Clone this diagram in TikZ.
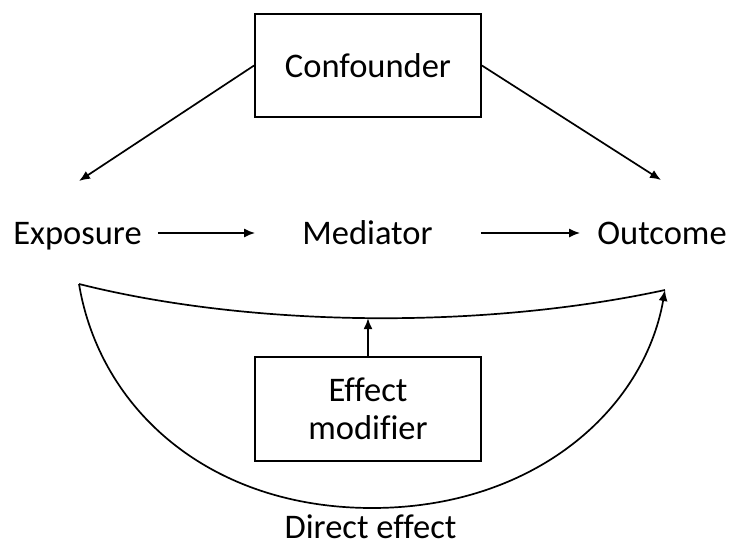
\documentclass[tikz,border=0pt]{standalone}
\usepackage{fontspec}
\setmainfont{Carlito}[Ligatures=NoCommon]
\usetikzlibrary{arrows.meta}

\tikzset{
  lbl/.style={inner sep=0pt, text height=22pt, text depth=0pt},
  boxnode/.style={draw, line width=1.8pt, minimum width=226pt, inner sep=0pt, align=center},
  link/.style={line width=1.7pt},
  arr/.style={link, -{Latex[length=11pt,width=9pt]}}
}

\begin{document}
\begin{tikzpicture}[x=1pt, y=-1pt, font=\fontsize{34.5}{40}\selectfont]
  \useasboundingbox (0,0) rectangle (729,546);

  % boxes
  \node[boxnode, minimum height=103pt] (conf) at (368,65.5) {Confounder};
  \node[boxnode, minimum height=104pt] (eff) at (368,409) {Effect\\[-2pt]modifier};

  % row of variables
  \node[lbl] (expo) at (77.5,233) {Exposure};
  \node[lbl] (med)  at (367.5,233) {Mediator};
  \node[lbl] (out)  at (662,233) {Outcome};

  % free ends of the confounder arrows and of the direct-effect loop
  \coordinate (cl) at (79,181);
  \coordinate (cr) at (661,180);
  \coordinate (dl) at (79,284);
  \coordinate (dr) at (665,290);
  \coordinate (db) at (372,508);

  % confounding paths
  \draw[arr] (conf.west) -- (cl);
  \draw[arr] (conf.east) -- (cr);

  % mediated path
  \draw[arr, shorten <=16pt, shorten >=47pt] (expo.east) -- (med.west);
  \draw[arr, shorten <=48pt, shorten >=17pt] (med.east) -- (out.west);

  % direct effect loop
  \draw[link] (dl) .. controls (250,327) and (480,330) .. coordinate[pos=0.5] (dm) (dr);
  \draw[arr] (dl) .. controls (100,410) and (210,508) .. (db)
                  .. controls (534,508) and (644,410) .. (dr);

  % modification of the direct effect
  \draw[arr] (eff.north) -- (eff.north |- dm);

  \node[anchor=base, inner sep=0pt, text depth=0pt] (de) at (370.5,538) {Direct effect};
\end{tikzpicture}
\end{document}
